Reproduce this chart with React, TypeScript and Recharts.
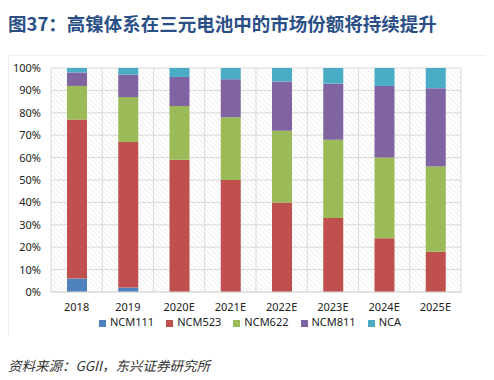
import React from "react";
import {
  Bar,
  BarChart,
  CartesianGrid,
  Legend,
  XAxis,
  YAxis,
} from "recharts";

const years = ["2018", "2019", "2020E", "2021E", "2022E", "2023E", "2024E", "2025E"];
const ncm111 = [6, 2, 0, 0, 0, 0, 0, 0];
const ncm523 = [71, 65, 59, 50, 40, 33, 24, 18];
const ncm622 = [15, 20, 24, 28, 32, 35, 36, 38];
const ncm811 = [6, 10, 13, 17, 22, 25, 32, 35];
const nca = [2, 3, 4, 5, 6, 7, 8, 9];
const yTicks = [0, 10, 20, 30, 40, 50, 60, 70, 80, 90, 100];

const series = [
  { key: "NCM111", color: "#4F81BD" },
  { key: "NCM523", color: "#C0504D" },
  { key: "NCM622", color: "#9BBB59" },
  { key: "NCM811", color: "#8064A2" },
  { key: "NCA", color: "#4BACC6" },
];
const order = series.map((s) => s.key);

const data = years.map((year, i) => ({
  year,
  NCM111: ncm111[i],
  NCM523: ncm523[i],
  NCM622: ncm622[i],
  NCM811: ncm811[i],
  NCA: nca[i],
}));

const font = '"Noto Sans", "Noto Sans CJK SC", sans-serif';

export default function App() {
  return (
    <div
      style={{
        position: "relative",
        width: 494,
        height: 380,
        margin: -8,
        background: "#fff",
        fontFamily: font,
        overflow: "hidden",
      }}
    >
      <div
        style={{
          position: "absolute",
          left: 8,
          top: 10,
          fontSize: 18.5,
          fontWeight: 700,
          color: "#2A4F86",
          fontFamily: '"Noto Sans CJK SC", sans-serif',
          whiteSpace: "nowrap",
          lineHeight: "26px",
        }}
      >
        图37：高镍体系在三元电池中的市场份额将持续提升
      </div>
      <div
        style={{
          position: "absolute",
          left: 8,
          top: 55,
          width: 478,
          height: 280,
          borderLeft: "1px solid #f0f0f0",
          borderTop: "1px solid #f0f0f0",
        }}
      />
      <div style={{ position: "absolute", left: 0, top: 0 }}>
        <BarChart
          width={494}
          height={340}
          data={data}
          margin={{ top: 68, right: 33, left: 8, bottom: 14 }}
          barSize={20}
        >
          <defs>
            <pattern
              id="hatch"
              width="3.5"
              height="3.5"
              patternUnits="userSpaceOnUse"
              patternTransform="rotate(-45)"
            >
              <rect width="3.5" height="3.5" fill="#ffffff" />
              <line x1="0" y1="0" x2="0" y2="3.5" stroke="#e2e2e2" strokeWidth="1" />
            </pattern>
          </defs>
          <CartesianGrid
            fill="url(#hatch)"
            stroke="#d9d9d9"
            verticalCoordinatesGenerator={({ offset }: any) =>
              years.map((_, i) => offset.left + (offset.width * i) / years.length).concat(offset.left + offset.width)
            }
          />
          <XAxis
            dataKey="year"
            tickLine={false}
            axisLine={{ stroke: "#d9d9d9" }}
            tick={{ fontSize: 11, fill: "#222", fontFamily: font }}
            tickMargin={5}
            height={20}
            interval={0}
          />
          <YAxis
            domain={[0, 100]}
            ticks={yTicks}
            tickFormatter={(v) => `${v}%`}
            tickLine={false}
            axisLine={false}
            tick={{ fontSize: 11, fill: "#222", fontFamily: font }}
            tickMargin={4}
            width={43}
            interval={0}
          />
          <Legend
            verticalAlign="bottom"
            iconType="square"
            iconSize={7}
            itemSorter={(item: any) => order.indexOf(String(item.dataKey ?? item.value))}
            formatter={(value: string) => (
              <span style={{ color: "#222", paddingRight: 2 }}>{value}</span>
            )}
            wrapperStyle={{ left: 51, width: 410, top: 315, bottom: "auto", fontSize: 11, lineHeight: "14px" }}
          />
          {series.map((s) => (
            <Bar
              key={s.key}
              dataKey={s.key}
              stackId="a"
              fill={s.color}
              isAnimationActive={false}
            />
          ))}
        </BarChart>
      </div>
      <div
        style={{
          position: "absolute",
          left: 8,
          top: 355,
          fontSize: 13.5,
          fontStyle: "italic",
          color: "#333",
          fontFamily: '"Noto Sans CJK SC", sans-serif',
          whiteSpace: "nowrap",
          lineHeight: "20px",
        }}
      >
        资料来源：GGII，东兴证券研究所
      </div>
    </div>
  );
}
